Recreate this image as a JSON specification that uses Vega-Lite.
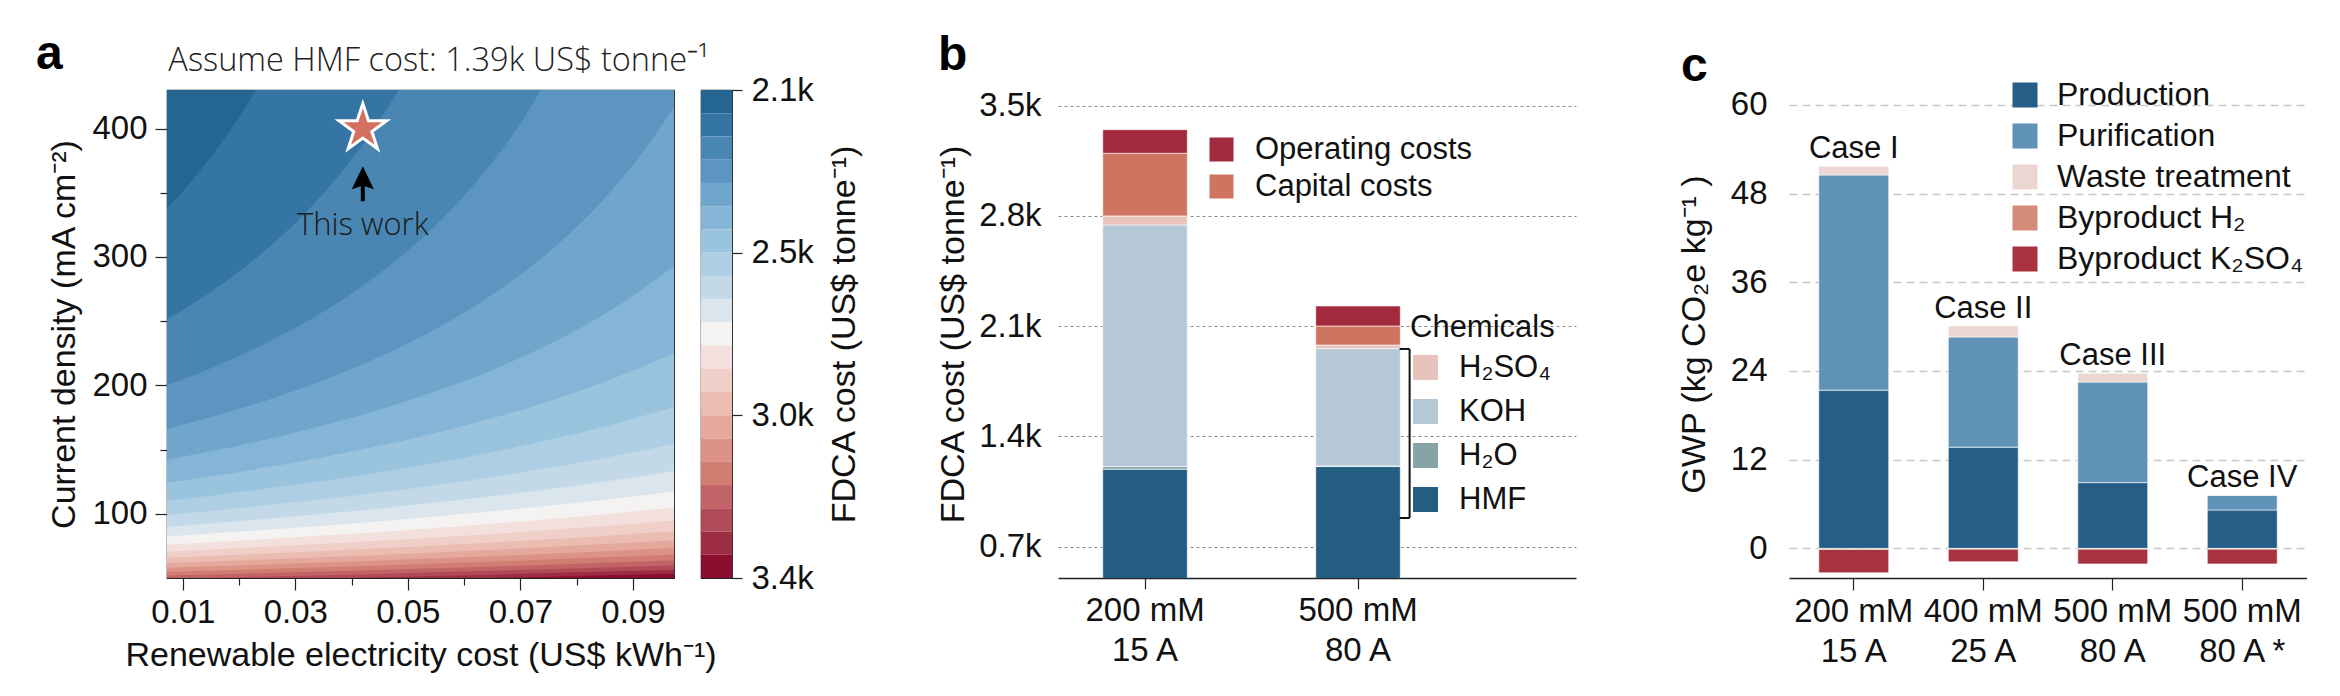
{
  "$schema": "https://vega.github.io/schema/vega-lite/v6.json",
  "background": "white",
  "padding": {"left": 35, "top": 30, "right": 0, "bottom": 0},
  "config": {
    "font": "Liberation Sans",
    "view": {"stroke": null},
    "axis": {"labelFont": "Liberation Sans", "titleFont": "Liberation Sans", "labelColor": "#111", "titleColor": "#111", "titleFontWeight": "normal", "labelFontSize": 33, "titleFontSize": 34},
    "legend": {"labelFont": "Liberation Sans", "titleFont": "Liberation Sans", "labelColor": "#111", "titleColor": "#111", "symbolType": "square", "symbolStrokeWidth": 0, "symbolOpacity": 1, "labelLimit": 500},
    "title": {"frame": "group", "baseline": "alphabetic", "color": "#000"}
  },
  "bounds": "flush",
  "spacing": 27,
  "resolve": {"scale": {"color": "independent"}, "legend": {"color": "independent"}},
  "hconcat": [
    {
      "width": 507,
      "height": 488,
      "view": {"stroke": "#222", "strokeWidth": 1.2},
      "title": {"text": "a", "anchor": "start", "dx": -131, "offset": 11, "fontSize": 48, "fontWeight": "bold", "font": "Liberation Sans"},
      "layer": [
        {
          "data": {"values": [
            {"level": 20, "elec": 0.0072, "j": 50}, {"level": 20, "elec": 0.0973, "j": 50},
            {"level": 19, "elec": 0.0072, "j": 44.8}, {"level": 19, "elec": 0.015, "j": 45.4}, {"level": 19, "elec": 0.025, "j": 46.2}, {"level": 19, "elec": 0.035, "j": 47.1}, {"level": 19, "elec": 0.045, "j": 48.0}, {"level": 19, "elec": 0.055, "j": 49.0}, {"level": 19, "elec": 0.065, "j": 50.0}, {"level": 19, "elec": 0.075, "j": 51.0}, {"level": 19, "elec": 0.085, "j": 52.1}, {"level": 19, "elec": 0.0973, "j": 53.4},
            {"level": 18, "elec": 0.0072, "j": 46.9}, {"level": 18, "elec": 0.015, "j": 47.6}, {"level": 18, "elec": 0.025, "j": 48.5}, {"level": 18, "elec": 0.035, "j": 49.5}, {"level": 18, "elec": 0.045, "j": 50.5}, {"level": 18, "elec": 0.055, "j": 51.6}, {"level": 18, "elec": 0.065, "j": 52.6}, {"level": 18, "elec": 0.075, "j": 53.8}, {"level": 18, "elec": 0.085, "j": 55.0}, {"level": 18, "elec": 0.0973, "j": 56.5},
            {"level": 17, "elec": 0.0072, "j": 49.3}, {"level": 17, "elec": 0.015, "j": 50.0}, {"level": 17, "elec": 0.025, "j": 51.1}, {"level": 17, "elec": 0.035, "j": 52.1}, {"level": 17, "elec": 0.045, "j": 53.2}, {"level": 17, "elec": 0.055, "j": 54.4}, {"level": 17, "elec": 0.065, "j": 55.6}, {"level": 17, "elec": 0.075, "j": 56.9}, {"level": 17, "elec": 0.085, "j": 58.2}, {"level": 17, "elec": 0.0973, "j": 60.0},
            {"level": 16, "elec": 0.0072, "j": 51.9}, {"level": 16, "elec": 0.015, "j": 52.7}, {"level": 16, "elec": 0.025, "j": 53.9}, {"level": 16, "elec": 0.035, "j": 55.1}, {"level": 16, "elec": 0.045, "j": 56.3}, {"level": 16, "elec": 0.055, "j": 57.6}, {"level": 16, "elec": 0.065, "j": 59.0}, {"level": 16, "elec": 0.075, "j": 60.4}, {"level": 16, "elec": 0.085, "j": 61.9}, {"level": 16, "elec": 0.0973, "j": 63.9},
            {"level": 15, "elec": 0.0072, "j": 54.8}, {"level": 15, "elec": 0.015, "j": 55.7}, {"level": 15, "elec": 0.025, "j": 57.0}, {"level": 15, "elec": 0.035, "j": 58.3}, {"level": 15, "elec": 0.045, "j": 59.7}, {"level": 15, "elec": 0.055, "j": 61.2}, {"level": 15, "elec": 0.065, "j": 62.8}, {"level": 15, "elec": 0.075, "j": 64.4}, {"level": 15, "elec": 0.085, "j": 66.1}, {"level": 15, "elec": 0.0973, "j": 68.3},
            {"level": 14, "elec": 0.0072, "j": 58.0}, {"level": 14, "elec": 0.015, "j": 59.1}, {"level": 14, "elec": 0.025, "j": 60.5}, {"level": 14, "elec": 0.035, "j": 62.0}, {"level": 14, "elec": 0.045, "j": 63.6}, {"level": 14, "elec": 0.055, "j": 65.3}, {"level": 14, "elec": 0.065, "j": 67.0}, {"level": 14, "elec": 0.075, "j": 68.9}, {"level": 14, "elec": 0.085, "j": 70.9}, {"level": 14, "elec": 0.0973, "j": 73.4},
            {"level": 13, "elec": 0.0072, "j": 61.7}, {"level": 13, "elec": 0.015, "j": 62.9}, {"level": 13, "elec": 0.025, "j": 64.5}, {"level": 13, "elec": 0.035, "j": 66.2}, {"level": 13, "elec": 0.045, "j": 68.0}, {"level": 13, "elec": 0.055, "j": 69.9}, {"level": 13, "elec": 0.065, "j": 72.0}, {"level": 13, "elec": 0.075, "j": 74.1}, {"level": 13, "elec": 0.085, "j": 76.4}, {"level": 13, "elec": 0.0973, "j": 79.4},
            {"level": 12, "elec": 0.0072, "j": 65.8}, {"level": 12, "elec": 0.015, "j": 67.2}, {"level": 12, "elec": 0.025, "j": 69.0}, {"level": 12, "elec": 0.035, "j": 71.0}, {"level": 12, "elec": 0.045, "j": 73.1}, {"level": 12, "elec": 0.055, "j": 75.3}, {"level": 12, "elec": 0.065, "j": 77.7}, {"level": 12, "elec": 0.075, "j": 80.2}, {"level": 12, "elec": 0.085, "j": 82.8}, {"level": 12, "elec": 0.0973, "j": 86.4},
            {"level": 11, "elec": 0.0072, "j": 70.5}, {"level": 11, "elec": 0.015, "j": 72.1}, {"level": 11, "elec": 0.025, "j": 74.3}, {"level": 11, "elec": 0.035, "j": 76.6}, {"level": 11, "elec": 0.045, "j": 79.0}, {"level": 11, "elec": 0.055, "j": 81.6}, {"level": 11, "elec": 0.065, "j": 84.3}, {"level": 11, "elec": 0.075, "j": 87.3}, {"level": 11, "elec": 0.085, "j": 90.5}, {"level": 11, "elec": 0.0973, "j": 94.7},
            {"level": 10, "elec": 0.0072, "j": 76.0}, {"level": 10, "elec": 0.015, "j": 77.8}, {"level": 10, "elec": 0.025, "j": 80.4}, {"level": 10, "elec": 0.035, "j": 83.0}, {"level": 10, "elec": 0.045, "j": 85.9}, {"level": 10, "elec": 0.055, "j": 89.0}, {"level": 10, "elec": 0.065, "j": 92.3}, {"level": 10, "elec": 0.075, "j": 95.8}, {"level": 10, "elec": 0.085, "j": 99.7}, {"level": 10, "elec": 0.0973, "j": 104.8},
            {"level": 9, "elec": 0.0072, "j": 82.4}, {"level": 9, "elec": 0.015, "j": 84.6}, {"level": 9, "elec": 0.025, "j": 87.5}, {"level": 9, "elec": 0.035, "j": 90.7}, {"level": 9, "elec": 0.045, "j": 94.2}, {"level": 9, "elec": 0.055, "j": 97.9}, {"level": 9, "elec": 0.065, "j": 101.9}, {"level": 9, "elec": 0.075, "j": 106.2}, {"level": 9, "elec": 0.085, "j": 111.0}, {"level": 9, "elec": 0.0973, "j": 117.4},
            {"level": 8, "elec": 0.0072, "j": 89.9}, {"level": 8, "elec": 0.015, "j": 92.5}, {"level": 8, "elec": 0.025, "j": 96.1}, {"level": 8, "elec": 0.035, "j": 100.0}, {"level": 8, "elec": 0.045, "j": 104.2}, {"level": 8, "elec": 0.055, "j": 108.7}, {"level": 8, "elec": 0.065, "j": 113.7}, {"level": 8, "elec": 0.075, "j": 119.1}, {"level": 8, "elec": 0.085, "j": 125.1}, {"level": 8, "elec": 0.0973, "j": 133.4},
            {"level": 7, "elec": 0.0072, "j": 99.0}, {"level": 7, "elec": 0.015, "j": 102.2}, {"level": 7, "elec": 0.025, "j": 106.6}, {"level": 7, "elec": 0.035, "j": 111.3}, {"level": 7, "elec": 0.045, "j": 116.6}, {"level": 7, "elec": 0.055, "j": 122.3}, {"level": 7, "elec": 0.065, "j": 128.6}, {"level": 7, "elec": 0.075, "j": 135.6}, {"level": 7, "elec": 0.085, "j": 143.4}, {"level": 7, "elec": 0.0973, "j": 154.4},
            {"level": 6, "elec": 0.0072, "j": 110.1}, {"level": 6, "elec": 0.015, "j": 114.1}, {"level": 6, "elec": 0.025, "j": 119.6}, {"level": 6, "elec": 0.035, "j": 125.6}, {"level": 6, "elec": 0.045, "j": 132.3}, {"level": 6, "elec": 0.055, "j": 139.7}, {"level": 6, "elec": 0.065, "j": 148.0}, {"level": 6, "elec": 0.075, "j": 157.4}, {"level": 6, "elec": 0.085, "j": 168.0}, {"level": 6, "elec": 0.0973, "j": 183.2},
            {"level": 5, "elec": 0.0072, "j": 124.1}, {"level": 5, "elec": 0.015, "j": 129.1}, {"level": 5, "elec": 0.025, "j": 136.2}, {"level": 5, "elec": 0.035, "j": 144.1}, {"level": 5, "elec": 0.045, "j": 152.9}, {"level": 5, "elec": 0.055, "j": 162.9}, {"level": 5, "elec": 0.065, "j": 174.3}, {"level": 5, "elec": 0.075, "j": 187.5}, {"level": 5, "elec": 0.085, "j": 202.8}, {"level": 5, "elec": 0.0973, "j": 225.3},
            {"level": 4, "elec": 0.0072, "j": 142.0}, {"level": 4, "elec": 0.015, "j": 148.7}, {"level": 4, "elec": 0.025, "j": 158.1}, {"level": 4, "elec": 0.035, "j": 168.9}, {"level": 4, "elec": 0.045, "j": 181.2}, {"level": 4, "elec": 0.055, "j": 195.4}, {"level": 4, "elec": 0.065, "j": 212.0}, {"level": 4, "elec": 0.075, "j": 231.8}, {"level": 4, "elec": 0.085, "j": 255.6}, {"level": 4, "elec": 0.0973, "j": 292.6},
            {"level": 3, "elec": 0.0072, "j": 166.1}, {"level": 3, "elec": 0.015, "j": 175.3}, {"level": 3, "elec": 0.025, "j": 188.5}, {"level": 3, "elec": 0.035, "j": 204.0}, {"level": 3, "elec": 0.045, "j": 222.2}, {"level": 3, "elec": 0.055, "j": 244.0}, {"level": 3, "elec": 0.065, "j": 270.6}, {"level": 3, "elec": 0.075, "j": 303.6}, {"level": 3, "elec": 0.085, "j": 345.8}, {"level": 3, "elec": 0.091, "j": 377.2}, {"level": 3, "elec": 0.0973, "j": 417.0},
            {"level": 2, "elec": 0.0072, "j": 200.0}, {"level": 2, "elec": 0.015, "j": 213.4}, {"level": 2, "elec": 0.025, "j": 233.4}, {"level": 2, "elec": 0.035, "j": 257.6}, {"level": 2, "elec": 0.045, "j": 287.4}, {"level": 2, "elec": 0.055, "j": 324.9}, {"level": 2, "elec": 0.06, "j": 347.6}, {"level": 2, "elec": 0.065, "j": 373.7}, {"level": 2, "elec": 0.07, "j": 404.0}, {"level": 2, "elec": 0.0737, "j": 430},
            {"level": 1, "elec": 0.0072, "j": 251.3}, {"level": 1, "elec": 0.015, "j": 272.8}, {"level": 1, "elec": 0.025, "j": 306.4}, {"level": 1, "elec": 0.03, "j": 326.5}, {"level": 1, "elec": 0.035, "j": 349.4}, {"level": 1, "elec": 0.04, "j": 375.8}, {"level": 1, "elec": 0.045, "j": 406.5}, {"level": 1, "elec": 0.0484, "j": 430},
            {"level": 0, "elec": 0.0072, "j": 337.8}, {"level": 0, "elec": 0.011, "j": 356.2}, {"level": 0, "elec": 0.015, "j": 377.9}, {"level": 0, "elec": 0.019, "j": 402.3}, {"level": 0, "elec": 0.021, "j": 415.8}, {"level": 0, "elec": 0.023, "j": 430}
          ]},
          "mark": {"type": "area", "interpolate": "monotone", "clip": true},
          "encoding": {
            "x": {"field": "elec", "type": "quantitative", "title": "Renewable electricity cost (US$ kWh⁻¹)",
              "scale": {"domain": [0.0072, 0.0973], "nice": false, "zero": false},
              "axis": {"values": [0.01, 0.02, 0.03, 0.04, 0.05, 0.06, 0.07, 0.08, 0.09], "format": ".2f",
                "labelExpr": "round(datum.value*100) % 2 == 1 ? datum.label : ''",
                "tickSize": {"condition": {"test": "round(datum.value*100) % 2 == 1", "value": 12}, "value": 7},
                "tickColor": "#222", "tickWidth": 1.2, "domain": false, "grid": false, "labelPadding": 6, "titlePadding": 9, "labelFlush": false}},
            "y": {"field": "j", "type": "quantitative", "title": "Current density (mA cm⁻²)",
              "scale": {"domain": [50, 430], "nice": false, "zero": false},
              "axis": {"values": [100, 150, 200, 250, 300, 350, 400],
                "labelExpr": "datum.value % 100 == 0 ? datum.label : ''",
                "tickSize": {"condition": {"test": "datum.value % 100 == 0", "value": 12}, "value": 7},
                "tickColor": "#222", "tickWidth": 1.2, "domain": false, "grid": false, "labelPadding": 8, "titlePadding": 10}},
            "y2": {"datum": 430},
            "color": {"field": "level", "type": "ordinal", "legend": null,
              "scale": {"domain": [0,1,2,3,4,5,6,7,8,9,10,11,12,13,14,15,16,17,18,19,20],
                "range": ["#246591","#3475a3","#4986b2","#5c95bf","#70a6cc","#85b5d6","#9ac3de","#aecfe3","#c3d9e8","#dae5ee","#f4f3f1","#f3e0dc","#efcfc8","#eabcb2","#e4a99c","#dc9385","#d17d72","#c26467","#b04a57","#9d2d43","#8c0e2f"]}}
          }
        },
        {
          "data": {"values": [{"elec": 0.042, "j": 400, "note": "This work"}]},
          "mark": {"type": "point", "shape": "M0,-1 L0.2245,-0.309 L0.9511,-0.309 L0.3633,0.118 L0.5878,0.809 L0,0.382 L-0.5878,0.809 L-0.3633,0.118 L-0.9511,-0.309 L-0.2245,-0.309 Z", "size": 2500, "filled": true, "fill": "#d4705f", "stroke": "white", "strokeWidth": 3, "opacity": 1},
          "encoding": {"x": {"field": "elec", "type": "quantitative"}, "y": {"field": "j", "type": "quantitative"}}
        },
        {
          "data": {"values": [{"elec": 0.042, "j": 357}]},
          "mark": {"type": "point", "shape": "M0,-1 L0.63,0.31 L0.115,0.15 L0.115,1 L-0.115,1 L-0.115,0.15 L-0.63,0.31 Z", "size": 1225, "filled": true, "fill": "#000", "strokeWidth": 0, "opacity": 1},
          "encoding": {"x": {"field": "elec", "type": "quantitative"}, "y": {"field": "j", "type": "quantitative"}}
        },
        {
          "data": {"values": [{"elec": 0.042, "j": 324, "note": "This work"}]},
          "mark": {"type": "text", "font": "Open Sans", "fontWeight": 300, "fontSize": 31, "color": "#1a1a1a", "align": "center", "baseline": "middle"},
          "encoding": {"x": {"field": "elec", "type": "quantitative"}, "y": {"field": "j", "type": "quantitative"}, "text": {"field": "note"}}
        }
      ]
    },
    {
      "width": 31,
      "height": 488,
      "view": {"stroke": "#222", "strokeWidth": 1.2},
      "title": {"text": "Assume HMF cost: 1.39k US$ tonne⁻¹", "anchor": "end", "dx": -23, "offset": -3, "font": "Open Sans", "fontSize": 32.5, "fontWeight": 300, "color": "#222"},
      "data": {"values": [
        {"level": 0, "upper": 1}, {"level": 1, "upper": 2}, {"level": 2, "upper": 3}, {"level": 3, "upper": 4}, {"level": 4, "upper": 5}, {"level": 5, "upper": 6}, {"level": 6, "upper": 7},
        {"level": 7, "upper": 8}, {"level": 8, "upper": 9}, {"level": 9, "upper": 10}, {"level": 10, "upper": 11}, {"level": 11, "upper": 12}, {"level": 12, "upper": 13}, {"level": 13, "upper": 14},
        {"level": 14, "upper": 15}, {"level": 15, "upper": 16}, {"level": 16, "upper": 17}, {"level": 17, "upper": 18}, {"level": 18, "upper": 19}, {"level": 19, "upper": 20}, {"level": 20, "upper": 21}
      ]},
      "mark": {"type": "rect"},
      "encoding": {
        "y": {"field": "level", "type": "quantitative", "title": "FDCA cost (US$ tonne⁻¹)",
          "scale": {"domain": [0, 21], "reverse": true, "nice": false, "zero": false},
          "axis": {"orient": "right", "values": [0, 7, 14, 21], "labelExpr": "datum.value == 0 ? '2.1k' : datum.value == 7 ? '2.5k' : datum.value == 14 ? '3.0k' : '3.4k'",
            "tickSize": 10, "tickColor": "#222", "tickWidth": 1.2, "domain": false, "grid": false, "labelPadding": 9, "titlePadding": 14, "titleAngle": 270, "titleBaseline": "top", "labelFlush": false}},
        "y2": {"field": "upper"},
        "color": {"field": "level", "type": "ordinal", "legend": null,
          "scale": {"domain": [0,1,2,3,4,5,6,7,8,9,10,11,12,13,14,15,16,17,18,19,20],
            "range": ["#246591","#3475a3","#4986b2","#5c95bf","#70a6cc","#85b5d6","#9ac3de","#aecfe3","#c3d9e8","#dae5ee","#f4f3f1","#f3e0dc","#efcfc8","#eabcb2","#e4a99c","#dc9385","#d17d72","#c26467","#b04a57","#9d2d43","#8c0e2f"]}}
      }
    },
    {
      "width": 272, "height": 488,
      "data": {"values": []},
      "mark": {"type": "point", "opacity": 0}
    },
    {
      "width": 518,
      "height": 488,
      "title": {"text": "b", "anchor": "start", "dx": -120, "offset": 10, "fontSize": 48, "fontWeight": "bold", "font": "Liberation Sans"},
      "layer": [
        {
          "data": {"values": [
            {"config": "200 mM\n15 A", "component": "HMF", "group": "chem", "rank": 1, "cost": 1191},
            {"config": "200 mM\n15 A", "component": "H₂O", "group": "chem", "rank": 2, "cost": 17},
            {"config": "200 mM\n15 A", "component": "KOH", "group": "chem", "rank": 3, "cost": 1535},
            {"config": "200 mM\n15 A", "component": "H₂SO₄", "group": "chem", "rank": 4, "cost": 57},
            {"config": "200 mM\n15 A", "component": "Capital costs", "group": "cost", "rank": 5, "cost": 398},
            {"config": "200 mM\n15 A", "component": "Operating costs", "group": "cost", "rank": 6, "cost": 150},
            {"config": "500 mM\n80 A", "component": "HMF", "group": "chem", "rank": 1, "cost": 1208},
            {"config": "500 mM\n80 A", "component": "H₂O", "group": "chem", "rank": 2, "cost": 4},
            {"config": "500 mM\n80 A", "component": "KOH", "group": "chem", "rank": 3, "cost": 745},
            {"config": "500 mM\n80 A", "component": "H₂SO₄", "group": "chem", "rank": 4, "cost": 23},
            {"config": "500 mM\n80 A", "component": "Capital costs", "group": "cost", "rank": 5, "cost": 121},
            {"config": "500 mM\n80 A", "component": "Operating costs", "group": "cost", "rank": 6, "cost": 127}
          ]},
          "transform": [
            {"stack": "cost", "groupby": ["config"], "sort": [{"field": "rank", "order": "ascending"}], "as": ["cost_lo", "cost_hi"]}
          ],
          "layer": [
            {
              "transform": [{"filter": "datum.group === 'chem'"}],
              "mark": {"type": "bar", "clip": true, "stroke": "white", "strokeWidth": 0.6},
              "encoding": {
                "x": {"field": "config", "type": "nominal", "title": null,
                  "scale": {"domain": ["200 mM\n15 A", "500 mM\n80 A"], "paddingInner": 0.603, "paddingOuter": 0.5175, "align": 0.203},
                  "axis": {"labelExpr": "split(datum.label, '\\n')", "labelAngle": 0, "labelLineHeight": 40, "labelFontSize": 33, "tickSize": 11, "tickColor": "#222", "tickWidth": 1.2, "domainColor": "#222", "domainWidth": 1.5, "labelPadding": 5, "grid": false}},
                "y": {"field": "cost_lo", "type": "quantitative", "title": "FDCA cost (US$ tonne⁻¹)",
                  "scale": {"domain": [500, 3600], "nice": false, "zero": false},
                  "axis": {"values": [700, 1400, 2100, 2800, 3500], "labelExpr": "format(datum.value/1000, '.1f') + 'k'", "domain": false, "ticks": false, "labelPadding": 17, "titlePadding": 8,
                    "grid": true, "gridColor": "#888", "gridDash": [3, 3], "gridWidth": 1}},
                "y2": {"field": "cost_hi"},
                "color": {"field": "component", "type": "nominal",
                  "scale": {"domain": ["H₂SO₄", "KOH", "H₂O", "HMF"], "range": ["#e8c3bb", "#b4c8d5", "#86a3a6", "#245d82"]},
                  "legend": {"title": "Chemicals", "orient": "none", "legendX": 352, "legendY": 223, "titleFontSize": 31, "titleFontWeight": "normal", "titlePadding": 8, "labelFontSize": 31, "symbolSize": 625, "labelOffset": 18, "rowPadding": 12}}
              }
            },
            {
              "transform": [{"filter": "datum.group === 'cost'"}],
              "mark": {"type": "bar", "clip": true, "stroke": "white", "strokeWidth": 0.6},
              "encoding": {
                "x": {"field": "config", "type": "nominal", "title": null},
                "y": {"field": "cost_lo", "type": "quantitative", "title": "FDCA cost (US$ tonne⁻¹)"},
                "y2": {"field": "cost_hi"},
                "color": {"field": "component", "type": "nominal",
                  "scale": {"domain": ["Operating costs", "Capital costs"], "range": ["#a3293c", "#cf7461"]},
                  "legend": {"title": null, "orient": "none", "legendX": 148, "legendY": 44, "labelFontSize": 31, "symbolSize": 576, "labelOffset": 18, "rowPadding": 5}}
              }
            },
            {
              "data": {"values": [{"config": "500 mM\n80 A", "edge": 881}, {"config": "500 mM\n80 A", "edge": 1955}]},
              "mark": {"type": "rule", "color": "#111", "strokeWidth": 2},
              "encoding": {
                "x": {"field": "config", "type": "nominal", "title": null, "bandPosition": 1.11},
                "y": {"aggregate": "min", "field": "edge", "type": "quantitative", "title": "FDCA cost (US$ tonne⁻¹)"},
                "y2": {"aggregate": "max", "field": "edge"}
              }
            },
            {
              "data": {"values": [{"config": "500 mM\n80 A", "edge": 881}, {"config": "500 mM\n80 A", "edge": 1955}]},
              "mark": {"type": "point", "shape": "M-1,0 L0,0", "size": 400, "filled": false, "stroke": "#111", "strokeWidth": 2, "opacity": 1},
              "encoding": {
                "x": {"field": "config", "type": "nominal", "title": null, "bandPosition": 1.11},
                "y": {"field": "edge", "type": "quantitative", "title": "FDCA cost (US$ tonne⁻¹)"}
              }
            }
          ],
          "resolve": {"scale": {"color": "independent"}}
        }
      ],
      "resolve": {"scale": {"color": "independent"}}
    },
    {
      "width": 159, "height": 488,
      "data": {"values": []},
      "mark": {"type": "point", "opacity": 0}
    },
    {
      "width": 518,
      "height": 488,
      "title": {"text": "c", "anchor": "start", "dx": -108, "offset": -12, "fontSize": 48, "fontWeight": "bold", "font": "Liberation Sans"},
      "data": {"values": [
        {"config": "200 mM\n15 A", "case": "Case I", "source": "Production", "rank": 1, "gwp": 21.4},
        {"config": "200 mM\n15 A", "case": "Case I", "source": "Purification", "rank": 2, "gwp": 29.1},
        {"config": "200 mM\n15 A", "case": "Case I", "source": "Waste treatment", "rank": 3, "gwp": 1.2},
        {"config": "200 mM\n15 A", "case": "Case I", "source": "Byproduct H₂", "rank": 4, "gwp": -0.15},
        {"config": "200 mM\n15 A", "case": "Case I", "source": "Byproduct K₂SO₄", "rank": 5, "gwp": -3.15},
        {"config": "400 mM\n25 A", "case": "Case II", "source": "Production", "rank": 1, "gwp": 13.7},
        {"config": "400 mM\n25 A", "case": "Case II", "source": "Purification", "rank": 2, "gwp": 14.9},
        {"config": "400 mM\n25 A", "case": "Case II", "source": "Waste treatment", "rank": 3, "gwp": 1.5},
        {"config": "400 mM\n25 A", "case": "Case II", "source": "Byproduct H₂", "rank": 4, "gwp": -0.1},
        {"config": "400 mM\n25 A", "case": "Case II", "source": "Byproduct K₂SO₄", "rank": 5, "gwp": -1.7},
        {"config": "500 mM\n80 A", "case": "Case III", "source": "Production", "rank": 1, "gwp": 8.9},
        {"config": "500 mM\n80 A", "case": "Case III", "source": "Purification", "rank": 2, "gwp": 13.6},
        {"config": "500 mM\n80 A", "case": "Case III", "source": "Waste treatment", "rank": 3, "gwp": 1.2},
        {"config": "500 mM\n80 A", "case": "Case III", "source": "Byproduct H₂", "rank": 4, "gwp": -0.1},
        {"config": "500 mM\n80 A", "case": "Case III", "source": "Byproduct K₂SO₄", "rank": 5, "gwp": -2.0},
        {"config": "500 mM\n80 A *", "case": "Case IV", "source": "Production", "rank": 1, "gwp": 5.2},
        {"config": "500 mM\n80 A *", "case": "Case IV", "source": "Purification", "rank": 2, "gwp": 2.0},
        {"config": "500 mM\n80 A *", "case": "Case IV", "source": "Waste treatment", "rank": 3, "gwp": 0.0},
        {"config": "500 mM\n80 A *", "case": "Case IV", "source": "Byproduct H₂", "rank": 4, "gwp": -0.1},
        {"config": "500 mM\n80 A *", "case": "Case IV", "source": "Byproduct K₂SO₄", "rank": 5, "gwp": -2.0}
      ]},
      "layer": [
        {
          "mark": {"type": "bar", "stroke": "white", "strokeWidth": 0.6},
          "encoding": {
            "x": {"field": "config", "type": "nominal", "title": null,
              "scale": {"domain": ["200 mM\n15 A", "400 mM\n25 A", "500 mM\n80 A", "500 mM\n80 A *"], "paddingInner": 0.46, "paddingOuter": 0.23},
              "axis": {"labelExpr": "split(datum.label, '\\n')", "labelAngle": 0, "labelLineHeight": 40, "labelFontSize": 33, "tickSize": 12, "tickColor": "#222", "tickWidth": 1.2, "domainColor": "#222", "domainWidth": 1.5, "labelPadding": 5, "grid": false}},
            "y": {"field": "gwp", "type": "quantitative", "stack": "zero", "title": "GWP (kg CO₂e kg⁻¹ )",
              "scale": {"domain": [-4, 62], "nice": false, "zero": false},
              "axis": {"values": [0, 12, 24, 36, 48, 60], "domain": false, "ticks": false, "labelPadding": 22, "titlePadding": 19,
                "grid": true, "gridColor": "#c8c8c8", "gridDash": [8, 5], "gridWidth": 1.5}},
            "order": {"field": "rank", "type": "quantitative"},
            "color": {"field": "source", "type": "nominal",
              "scale": {"domain": ["Production", "Purification", "Waste treatment", "Byproduct H₂", "Byproduct K₂SO₄"], "range": ["#255f87", "#6091b7", "#ebd6d2", "#d48b79", "#a83240"]},
              "legend": {"title": null, "orient": "none", "legendX": 220, "legendY": -11, "labelFontSize": 32, "symbolSize": 625, "labelOffset": 16, "rowPadding": 9}}
          }
        },
        {
          "transform": [
            {"filter": "datum.gwp > 0"},
            {"aggregate": [{"op": "sum", "field": "gwp", "as": "top"}], "groupby": ["config", "case"]}
          ],
          "mark": {"type": "text", "baseline": "bottom", "dy": -1, "fontSize": 31, "color": "#111"},
          "encoding": {
            "x": {"field": "config", "type": "nominal", "title": null},
            "y": {"field": "top", "type": "quantitative", "title": "GWP (kg CO₂e kg⁻¹ )"},
            "text": {"field": "case"}
          }
        }
      ]
    }
  ]
}
